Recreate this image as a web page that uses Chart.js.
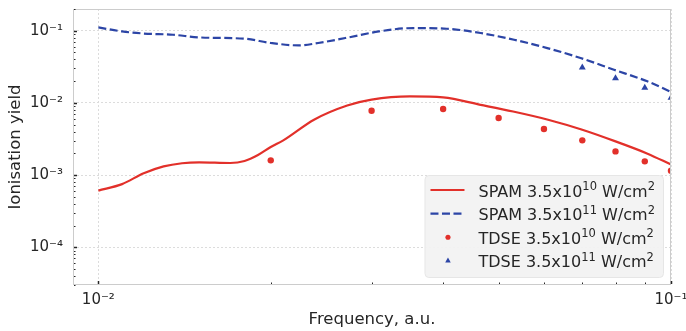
<!DOCTYPE html>
<html>
<head>
<meta charset="utf-8">
<script src="https://cdn.jsdelivr.net/npm/chart.js@4.4.0/dist/chart.umd.min.js"></script>
<style>
  html, body { margin: 0; padding: 0; background: #fff; }
  #wrap { width: 686px; height: 331px; }
</style>
</head>
<body>
<div id="wrap"><canvas id="chart" width="686" height="331"></canvas></div>
<script>
// SPAM, 3.5x10^10 W/cm^2 (frequency a.u. -> ionisation yield)
const spamFreq10 = [0.010, 0.011, 0.012, 0.013, 0.014, 0.015, 0.017, 0.018, 0.019, 0.020, 0.021, 0.0238, 0.0272, 0.030, 0.035, 0.040, 0.0465, 0.053, 0.061, 0.070, 0.080, 0.091, 0.100];
const spamYield10 = [6.1e-4, 7.5e-4, 1.06e-3, 1.32e-3, 1.46e-3, 1.50e-3, 1.47e-3, 1.57e-3, 1.90e-3, 2.45e-3, 3.0e-3, 5.85e-3, 9.2e-3, 1.11e-2, 1.23e-2, 1.19e-2, 9.4e-3, 7.6e-3, 5.85e-3, 4.25e-3, 2.93e-3, 1.98e-3, 1.40e-3];

// SPAM, 3.5x10^11 W/cm^2
const spamFreq11 = [0.010, 0.011, 0.012, 0.0135, 0.015, 0.018, 0.020, 0.0224, 0.0242, 0.0270, 0.0309, 0.0355, 0.0406, 0.0465, 0.0532, 0.0608, 0.0695, 0.0795, 0.0909, 0.100];
const spamYield11 = [0.111, 0.0978, 0.0915, 0.0880, 0.0808, 0.0775, 0.0676, 0.0626, 0.0676, 0.0792, 0.0978, 0.109, 0.1066, 0.0929, 0.0750, 0.0575, 0.0419, 0.0288, 0.0199, 0.0142];

// TDSE points
const tdseFreq10 = [0.02, 0.03, 0.04, 0.05, 0.06, 0.07, 0.08, 0.09, 0.10];
const tdseYield10 = [1.60e-3, 7.8e-3, 8.24e-3, 6.18e-3, 4.35e-3, 3.03e-3, 2.13e-3, 1.55e-3, 1.15e-3];
const tdseFreq11 = [0.07, 0.08, 0.09, 0.10];
const tdseYield11 = [3.1e-2, 2.2e-2, 1.62e-2, 1.18e-2];

// axes
const xTickValues = [0.01, 0.1];
const xTickLabels = ['10⁻²', '10⁻¹'];
const yTickValues = [1e-4, 1e-3, 1e-2, 1e-1];
const yTickLabels = ['10⁻⁴', '10⁻³', '10⁻²', '10⁻¹'];

const legendLabels = [
  'SPAM 3.5x10¹⁰ W/cm²',
  'SPAM 3.5x10¹¹ W/cm²',
  'TDSE 3.5x10¹⁰ W/cm²',
  'TDSE 3.5x10¹¹ W/cm²'
];

const RED = '#e2302a';
const BLUE = '#2c45a6';
const TEXT = '#262626';
const FONT = '"DejaVu Sans", sans-serif';

Chart.defaults.font.family = FONT;
Chart.defaults.color = TEXT;

const toPoints = (xs, ys) => xs.map((x, i) => ({ x: x, y: ys[i] }));

// 1..9 x 10^n ticks between lo and hi
function logTicks(lo, hi) {
  const out = [];
  for (let e = Math.floor(Math.log10(lo)); e <= Math.ceil(Math.log10(hi)); e++) {
    for (let k = 1; k < 10; k++) {
      const v = k * Math.pow(10, e);
      if (v >= lo * 0.9999 && v <= hi * 1.0001) out.push(v);
    }
  }
  return out;
}

const near = (v, list) => list.findIndex((t) => Math.abs(v - t) / t < 1e-6);

// keep label overhang out of the layout, the padding option does it
function fixSize(scale, prop, size) {
  scale[prop] = size;
  scale.paddingTop = 0;
  scale.paddingBottom = 0;
  scale.paddingLeft = 0;
  scale.paddingRight = 0;
}

// split a label into normal / superscript runs (unicode superscript digits)
const SUP = '⁰¹²³⁴⁵⁶⁷⁸⁹⁻';
const SUP_PLAIN = '0123456789-';
function runs(str) {
  const out = [];
  for (const ch of str) {
    const k = SUP.indexOf(ch);
    const sup = k >= 0;
    const c = sup ? SUP_PLAIN[k] : ch;
    const last = out[out.length - 1];
    if (last && last.sup === sup) last.t += c;
    else out.push({ t: c, sup: sup });
  }
  return out;
}

function richWidth(ctx, str, size, supSize) {
  let w = 0;
  runs(str).forEach((r) => {
    ctx.font = (r.sup ? supSize : size) + 'px ' + FONT;
    w += ctx.measureText(r.t).width;
  });
  return w;
}

function drawRich(ctx, str, x, base, size, supSize, rise) {
  runs(str).forEach((r) => {
    ctx.font = (r.sup ? supSize : size) + 'px ' + FONT;
    ctx.fillText(r.t, x, r.sup ? base - rise : base);
    x += ctx.measureText(r.t).width;
  });
}

const innerTicks = {
  id: 'innerTicks',
  afterDraw(chart) {
    const { ctx, chartArea: a, scales } = chart;
    const x = scales.x, y = scales.y;
    ctx.save();
    // frame
    ctx.strokeStyle = '#cccccc';
    ctx.lineWidth = 1;
    ctx.strokeRect(a.left + 0.5, a.top + 0.5, a.right - a.left - 1, a.bottom - a.top - 1);
    // ticks pointing in
    ctx.strokeStyle = TEXT;
    y.ticks.forEach((t) => {
      const major = near(t.value, yTickValues) >= 0;
      const py = Math.round(y.getPixelForValue(t.value)) + 0.5;
      ctx.lineWidth = major ? 1.5 : 1;
      ctx.beginPath();
      ctx.moveTo(a.left + 1, py);
      ctx.lineTo(a.left + (major ? 4 : 2.5), py);
      ctx.stroke();
    });
    x.ticks.forEach((t) => {
      const major = near(t.value, xTickValues) >= 0;
      const px = Math.round(x.getPixelForValue(t.value)) + 0.5;
      ctx.lineWidth = major ? 1.5 : 1;
      ctx.beginPath();
      ctx.moveTo(px, a.bottom - 1);
      ctx.lineTo(px, a.bottom - (major ? 4 : 2.5));
      ctx.stroke();
    });
    ctx.restore();
  }
};

const boxLegend = {
  id: 'boxLegend',
  afterDraw(chart) {
    const { ctx, chartArea: a } = chart;
    const ds = chart.data.datasets;
    ctx.save();
    const textW = Math.max(...legendLabels.map((s) => richWidth(ctx, s, 16, 11.5)));
    const boxW = 54 + textW + 8;
    const boxH = 102;
    const bx = a.right - 8 - boxW;
    const by = a.bottom - 8 - boxH;
    ctx.beginPath();
    ctx.roundRect(bx + 0.5, by + 0.5, boxW, boxH, 4);
    ctx.fillStyle = 'rgba(242,242,242,0.92)';
    ctx.fill();
    ctx.strokeStyle = '#e6e6e6';
    ctx.lineWidth = 1;
    ctx.stroke();

    legendLabels.forEach((label, i) => {
      const cy = by + 15 + i * 23.6;
      const d = ds[i];
      if (d.showLine !== false) {
        ctx.save();
        ctx.strokeStyle = d.borderColor;
        ctx.lineWidth = d.borderWidth;
        ctx.setLineDash(d.borderDash || []);
        ctx.beginPath();
        ctx.moveTo(bx + 6, cy);
        ctx.lineTo(bx + 40, cy);
        ctx.stroke();
        ctx.restore();
      } else {
        ctx.fillStyle = d.pointBackgroundColor;
        Chart.helpers.drawPoint(ctx, {
          pointStyle: d.pointStyle,
          radius: d.pointRadius * 0.8,
          rotation: 0,
          borderWidth: 0
        }, bx + 23.5, cy);
      }
      ctx.fillStyle = TEXT;
      ctx.textBaseline = 'alphabetic';
      ctx.textAlign = 'left';
      drawRich(ctx, label, bx + 54, cy + 6.5, 16, 11.5, 6.5);
    });
    ctx.restore();
  }
};

new Chart(document.getElementById('chart'), {
  type: 'line',
  data: {
    datasets: [
      {
        label: legendLabels[0],
        data: toPoints(spamFreq10, spamYield10),
        borderColor: RED,
        borderWidth: 2.2,
        pointRadius: 0,
        cubicInterpolationMode: 'monotone',
        order: 2
      },
      {
        label: legendLabels[1],
        data: toPoints(spamFreq11, spamYield11),
        borderColor: BLUE,
        borderWidth: 2.2,
        borderDash: [8, 3.5],
        pointRadius: 0,
        cubicInterpolationMode: 'monotone',
        order: 2
      },
      {
        label: legendLabels[2],
        data: toPoints(tdseFreq10, tdseYield10),
        showLine: false,
        pointStyle: 'circle',
        pointRadius: 3.2,
        pointBorderWidth: 0,
        pointBackgroundColor: RED,
        borderColor: RED,
        order: 1
      },
      {
        label: legendLabels[3],
        data: toPoints(tdseFreq11, tdseYield11),
        showLine: false,
        pointStyle: 'triangle',
        pointRadius: 4,
        pointBorderWidth: 0,
        pointBackgroundColor: BLUE,
        borderColor: BLUE,
        order: 1
      }
    ]
  },
  options: {
    responsive: false,
    animation: false,
    events: [],
    layout: { padding: { top: 9, right: 15, left: 0, bottom: 0 } },
    plugins: {
      legend: { display: false },
      tooltip: { enabled: false }
    },
    scales: {
      x: {
        type: 'logarithmic',
        min: 0.00903,
        max: 0.1,
        afterBuildTicks: (scale) => {
          scale.ticks = logTicks(0.01, 0.1).map((v) => ({ value: v }));
        },
        afterFit: (scale) => fixSize(scale, 'height', 46),
        ticks: {
          autoSkip: false,
          maxRotation: 0,
          padding: 6,
          font: { size: 15 },
          color: TEXT,
          callback: (v) => {
            const i = near(v, xTickValues);
            return i >= 0 ? xTickLabels[i] : '';
          }
        },
        grid: {
          drawTicks: false,
          lineWidth: 1,
          color: (c) => (c.tick && near(c.tick.value, xTickValues) >= 0 ? '#dcdcdc' : 'rgba(0,0,0,0)')
        },
        border: { display: false, dash: [2, 2] },
        title: {
          display: true,
          text: 'Frequency, a.u.',
          font: { size: 16.5 },
          color: TEXT,
          padding: { top: 0, bottom: 1 }
        }
      },
      y: {
        type: 'logarithmic',
        min: 3.0e-5,
        max: 0.2,
        afterBuildTicks: (scale) => {
          scale.ticks = logTicks(3.0e-5, 0.2).map((v) => ({ value: v }));
        },
        afterFit: (scale) => fixSize(scale, 'width', 73),
        ticks: {
          autoSkip: false,
          padding: 10,
          font: { size: 15 },
          color: TEXT,
          callback: (v) => {
            const i = near(v, yTickValues);
            return i >= 0 ? yTickLabels[i] : '';
          }
        },
        grid: {
          drawTicks: false,
          lineWidth: 1,
          color: (c) => (c.tick && near(c.tick.value, yTickValues) >= 0 ? '#dcdcdc' : 'rgba(0,0,0,0)')
        },
        border: { display: false, dash: [2, 2] },
        title: {
          display: true,
          text: 'Ionisation yield',
          font: { size: 16.5 },
          color: TEXT,
          padding: { top: 6, bottom: 0 }
        }
      }
    }
  },
  plugins: [innerTicks, boxLegend]
});
</script>
</body>
</html>
